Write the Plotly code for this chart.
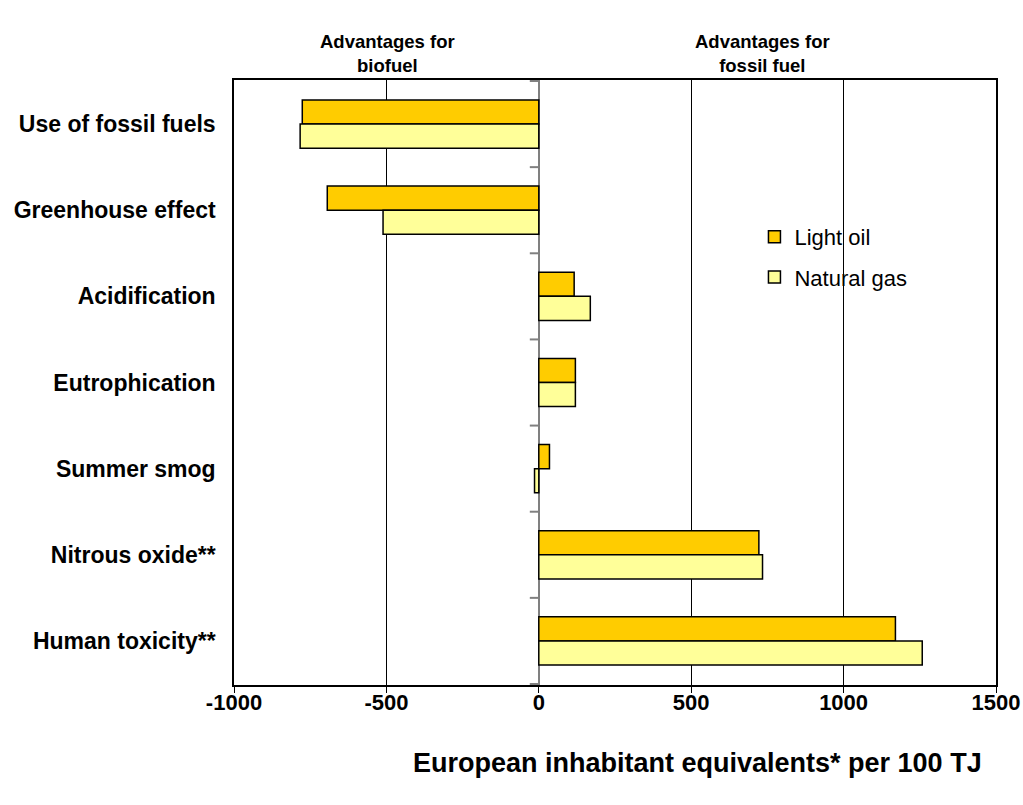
import plotly.graph_objects as go

# Impact categories (top to bottom)
categories = [
    "Use of fossil fuels",
    "Greenhouse effect",
    "Acidification",
    "Eutrophication",
    "Summer smog",
    "Nitrous oxide**",
    "Human toxicity**",
]

# European inhabitant equivalents per 100 TJ
light_oil = [-776, -694, 116, 120, 35, 722, 1170]
natural_gas = [-783, -511, 169, 120, -14, 734, 1258]

x_ticks = [-1000, -500, 0, 500, 1000, 1500]

FONT = "Liberation Sans, Arial, sans-serif"

fig = go.Figure()
fig.add_trace(go.Bar(
    y=categories, x=light_oil, name="Light oil", orientation="h",
    marker=dict(color="#FFCC00", line=dict(color="black", width=1.5)),
    legend="legend",
))
fig.add_trace(go.Bar(
    y=categories, x=natural_gas, name="Natural gas", orientation="h",
    marker=dict(color="#FFFF99", line=dict(color="black", width=1.5)),
    legend="legend2",
))

# short tick marks on the zero line between categories
for k in range(len(categories) + 1):
    fig.add_shape(
        type="line", xref="x", yref="y", xsizemode="pixel", xanchor=0,
        x0=-9, x1=0, y0=k - 0.5, y1=k - 0.5,
        line=dict(color="#808080", width=2), layer="above",
    )

head_font = dict(family=FONT, size=18.5, color="black")
fig.add_annotation(
    text="<b>Advantages for<br>biofuel</b>", xref="paper", yref="paper",
    x=0.202, y=1.004, xanchor="center", yanchor="bottom", showarrow=False,
    font=head_font,
)
fig.add_annotation(
    text="<b>Advantages for<br>fossil fuel</b>", xref="paper", yref="paper",
    x=0.694, y=1.004, xanchor="center", yanchor="bottom", showarrow=False,
    font=head_font,
)
fig.add_annotation(
    text="<b>European inhabitant equivalents* per 100 TJ</b>",
    xref="paper", yref="paper", x=0.608, y=-0.129,
    xanchor="center", yanchor="middle", showarrow=False,
    font=dict(family=FONT, size=27, color="black"),
)

legend_common = dict(
    xref="paper", yref="paper", xanchor="left", yanchor="middle",
    bgcolor="rgba(0,0,0,0)", borderwidth=0,
    font=dict(family=FONT, size=22, color="black"),
)

fig.update_layout(
    width=1023, height=805,
    margin=dict(l=234, r=27, t=80, b=120),
    paper_bgcolor="white", plot_bgcolor="white",
    barmode="group", bargap=0.44, bargroupgap=0,
    font=dict(family=FONT, color="black"),
    showlegend=True,
    legend=dict(x=0.683, y=0.7405, **legend_common),
    legend2=dict(x=0.683, y=0.674, **legend_common),
    xaxis=dict(
        range=[-1000, 1500], tickvals=x_ticks,
        ticktext=[str(v) for v in x_ticks],
        automargin=False,
        showgrid=True, gridcolor="black", gridwidth=1,
        zeroline=True, zerolinecolor="#808080", zerolinewidth=2,
        showline=True, linecolor="black", linewidth=1.5, mirror=True,
        ticks="outside", ticklen=6, tickcolor="black",
        ticklabelstandoff=-9,
        tickfont=dict(family=FONT, size=22, color="black", weight="bold"),
    ),
    yaxis=dict(
        categoryorder="array", categoryarray=categories, autorange="reversed",
        automargin=False,
        showgrid=False, zeroline=False,
        showline=True, linecolor="black", linewidth=1.5, mirror=True,
        ticks="", ticklabelstandoff=12,
        tickfont=dict(family=FONT, size=23, color="black", weight="bold"),
    ),
)

fig.write_html("out.html")
